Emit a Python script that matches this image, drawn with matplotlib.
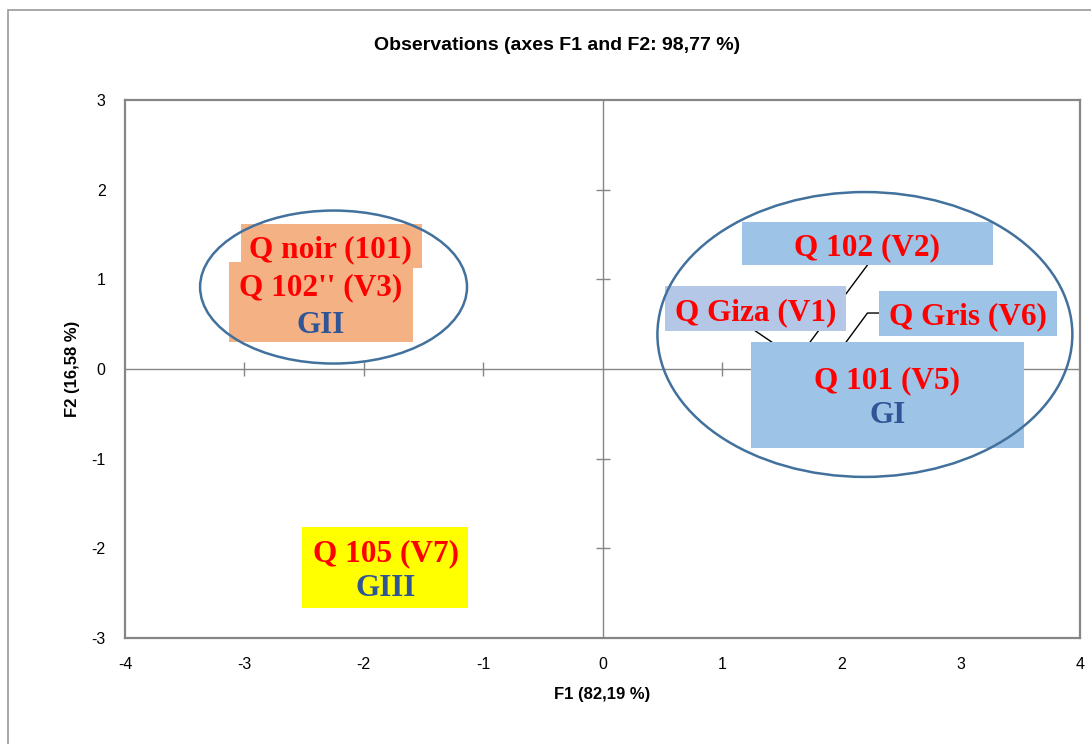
import matplotlib
matplotlib.use("Agg")
import matplotlib.pyplot as plt
from matplotlib.patches import Ellipse, Rectangle

plt.rcParams["axes.unicode_minus"] = False

# observations (hidden behind their labels, as in the original)
obs_names = ["Q Giza (V1)", "Q 102 (V2)", "Q 102'' (V3)", "Q 101 (V5)",
             "Q Gris (V6)", "Q 105 (V7)", "Q noir (101)"]
obs_f1 = [1.64, 1.66, -2.35, 2.10, 1.93, -1.80, -2.25]
obs_f2 = [0.10, 0.16, 0.85, 0.00, 0.10, -2.15, 1.20]

# groups
group_names = ["GI", "GII", "GIII"]
ell_center = [(2.198, 0.385), (-2.253, 0.914)]
ell_size = [(3.476, 3.177), (2.236, 1.706)]

xticks = [-4, -3, -2, -1, 0, 1, 2, 3, 4]
yticks = [-3, -2, -1, 0, 1, 2, 3]

RED = "#FF0000"
GBLUE = "#2F5597"
GREY = "#868686"
SERIF = "Liberation Serif"
SANS = ["Liberation Sans Narrow", "Liberation Sans", "DejaVu Sans"]

fig = plt.figure(figsize=(10.91, 7.44), dpi=100)
ax = fig.add_axes([125 / 1091, 1 - 638 / 744, 955 / 1091, 538 / 744])
ax.set_xlim(-4, 4)
ax.set_ylim(-3, 3)

# outer chart frame (only top/left visible in the crop)
fig.patches.append(Rectangle((8 / 1091, -0.1), 1.2, 1 - 10 / 744 + 0.1,
                             transform=fig.transFigure, fill=False,
                             edgecolor="#999999", lw=1.2))

for s in ax.spines.values():
    s.set_color(GREY)
    s.set_linewidth(1.6)
ax.set_xticks(xticks)
ax.set_yticks(yticks)
ax.tick_params(length=0, pad=14, labelsize=11.5)
for lab in ax.get_xticklabels() + ax.get_yticklabels():
    lab.set_family(SANS)

# zero lines with crossing ticks
ax.axhline(0, color=GREY, lw=1, zorder=1)
ax.axvline(0, color=GREY, lw=1, zorder=1)
ax.plot([t for t in xticks if t not in (0, -4, 4)], [0] * 6, ls="none",
        marker="|", ms=10, mew=1, color=GREY, zorder=1)
ax.plot([0] * 4, [t for t in yticks if t not in (0, -3, 3)], ls="none",
        marker="_", ms=10, mew=1, color=GREY, zorder=1)

ax.scatter(obs_f1, obs_f2, s=10, color="#4472C4", zorder=2)


def px(x, y):
    return (x - 602) / 119.4, (369 - y) / 89.7


def box(x0, y0, x1, y1, color, z):
    a = px(x0, y1)
    b = px(x1, y0)
    ax.add_patch(Rectangle(a, b[0] - a[0], b[1] - a[1], facecolor=color,
                           edgecolor="none", zorder=z))


def txt(x, y, s, color, z):
    ax.text(*px(x, y + 3), s, color=color, family=SERIF, weight="bold",
            fontsize=22.5, ha="center", va="center", zorder=z)


# leader lines
def leader(pts, i):
    xs = [px(*p)[0] for p in pts] + [obs_f1[i]]
    ys = [px(*p)[1] for p in pts] + [obs_f2[i]]
    ax.plot(xs, ys, color="black", lw=1, zorder=3)


leader([(867, 265)], 1)
leader([(755, 331)], 0)
leader([(878, 313), (867, 313)], 4)

# GII labels
box(240, 224, 421, 268, "#F4B183", 4)
txt(330, 247, obs_names[6], RED, 5)
box(228, 262, 412, 342, "#F4B183", 4)
txt(320, 285, obs_names[2], RED, 5)
txt(320, 322, group_names[1], GBLUE, 5)

# GI labels
box(742, 222, 993, 265, "#9DC3E6", 4)
txt(867, 245, obs_names[1], RED, 5)
box(665, 286, 846, 331, "#B4C7E7", 4)
txt(755, 310, obs_names[0], RED, 5)
box(879, 291, 1057, 336, "#9DC3E6", 4)
txt(968, 314, obs_names[4], RED, 5)
box(751, 342, 1024, 448, "#9DC3E6", 4)
txt(887, 378, obs_names[3], RED, 5)
txt(887, 413, group_names[0], GBLUE, 5)

# GIII labels
box(301, 527, 467, 608, "#FFFF00", 4)
txt(385, 551, obs_names[5], RED, 5)
txt(385, 586, group_names[2], GBLUE, 5)

for c, (w, h) in zip(ell_center, ell_size):
    ax.add_patch(Ellipse(c, w, h, fill=False, edgecolor="#41719C",
                         lw=1.8, zorder=6))

fig.text(557 / 1091, 1 - 45 / 744, "Observations (axes F1 and F2: 98,77 %)",
         ha="center", va="center", fontsize=14, weight="bold", family=SANS)
fig.text(602 / 1091, 1 - 695 / 744, "F1 (82,19 %)", ha="center",
         va="center", fontsize=12, weight="bold", family=SANS)
fig.text(73 / 1091, 1 - 369 / 744, "F2 (16,58 %)", ha="center",
         va="center", rotation=90, fontsize=12, weight="bold", family=SANS)

fig.savefig("out.png", dpi=100)
